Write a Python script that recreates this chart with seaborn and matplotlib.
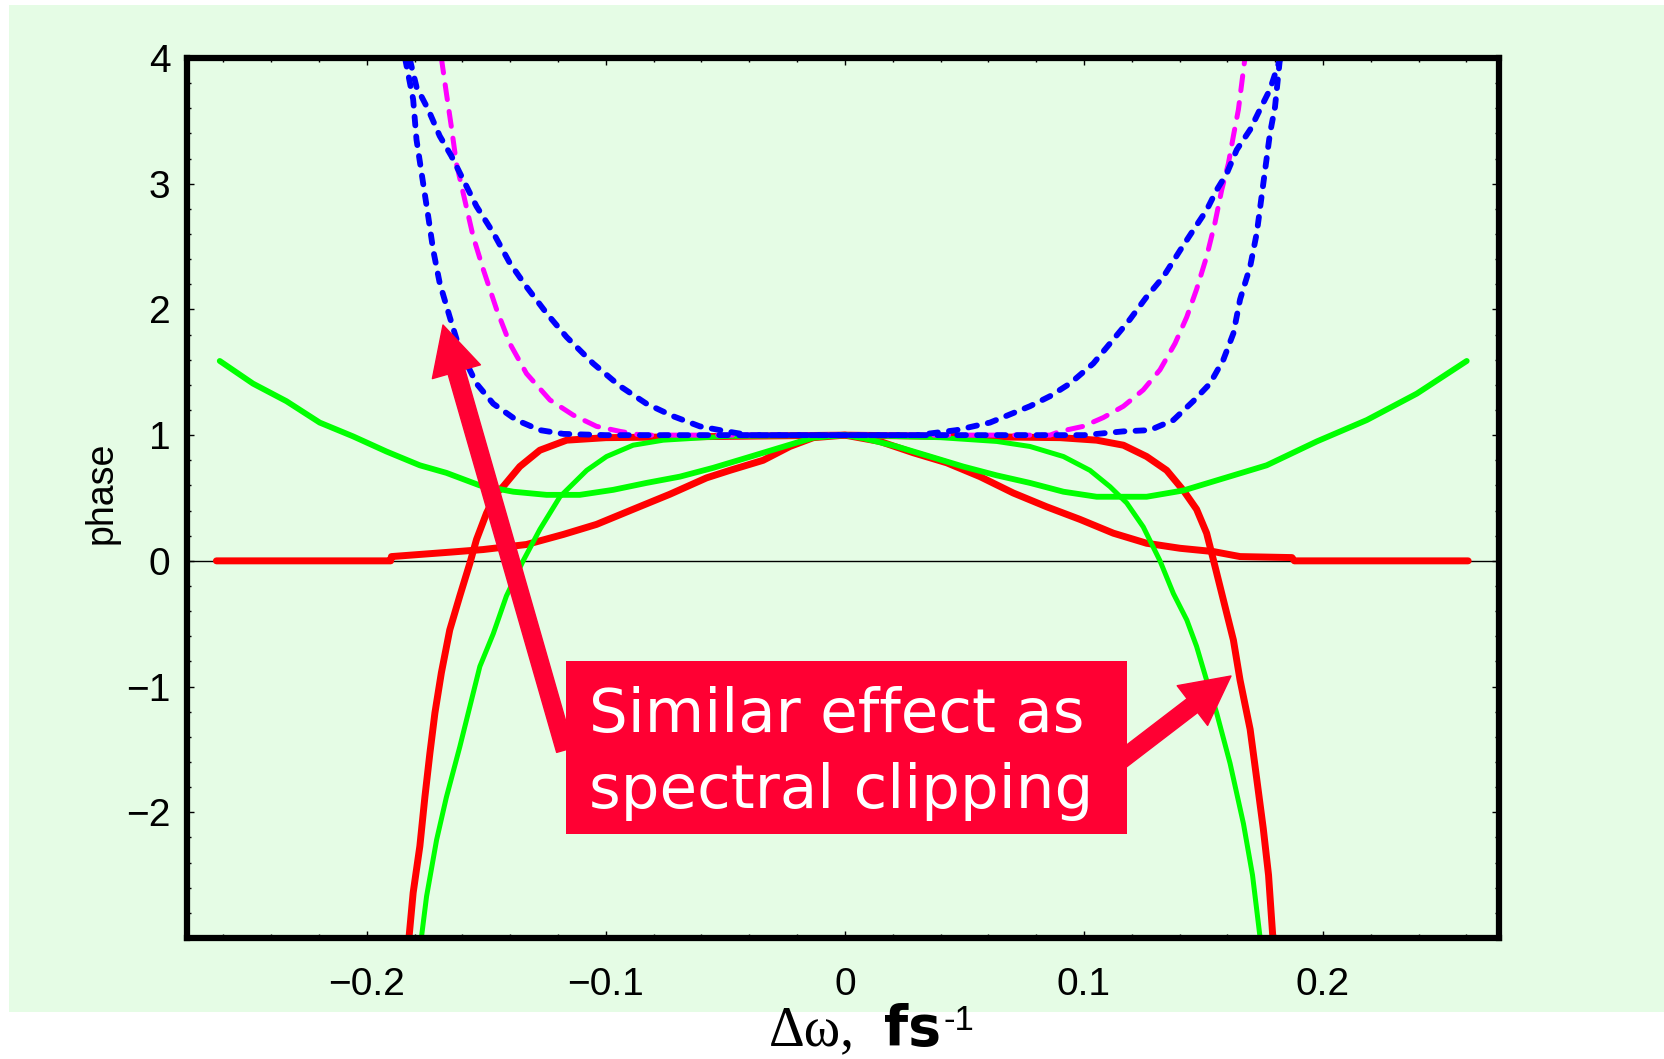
import matplotlib
matplotlib.use("Agg")
import matplotlib.pyplot as plt
from matplotlib.patches import Rectangle, FancyArrowPatch, ArrowStyle
from matplotlib.transforms import IdentityTransform
from matplotlib.ticker import FixedLocator, MultipleLocator
import numpy as np
import pandas as pd
import seaborn as sns

# ---------------- data ----------------
# narrow blue dashed curve
blue_narrow_x = [-0.184, -0.1806, -0.1792, -0.1764, -0.1743, -0.1722, -0.1695, -0.1653, -0.1611,
                 -0.1541, -0.1471, -0.1374, -0.1276, -0.1178, -0.10, -0.05, 0.0, 0.05, 0.10,
                 0.1165, 0.1276, 0.1374, 0.1457, 0.1527, 0.1583, 0.1625, 0.1653, 0.1695, 0.1723,
                 0.175, 0.1778, 0.1799, 0.182]
blue_narrow_y = [4.0, 3.67, 3.35, 3.0, 2.74, 2.47, 2.21, 1.94, 1.68,
                 1.41, 1.25, 1.12, 1.04, 1.01, 1.0, 1.0, 1.0, 1.0, 1.0,
                 1.03, 1.04, 1.12, 1.27, 1.41, 1.60, 1.81, 2.08, 2.34, 2.61,
                 3.0, 3.40, 3.61, 4.0]

# wide blue dashed curve
blue_wide_x = [-0.182, -0.1792, -0.1743, -0.1695, -0.1646, -0.1604, -0.1541, -0.1471, -0.1402,
               -0.1332, -0.1248, -0.1164, -0.1053, -0.0941, -0.083, -0.0718, -0.0607, -0.0495,
               -0.04, 0.0, 0.03, 0.0467, 0.0607, 0.0774, 0.0858, 0.0941, 0.1039, 0.1109, 0.1192,
               0.1262, 0.1332, 0.1402, 0.1457, 0.1513, 0.1555, 0.1597, 0.1639, 0.1695, 0.1736,
               0.1778, 0.182]
blue_wide_y = [3.99, 3.77, 3.59, 3.38, 3.22, 3.06, 2.82, 2.61, 2.37,
               2.18, 1.97, 1.78, 1.57, 1.39, 1.25, 1.15, 1.07, 1.03,
               1.0, 1.0, 1.0, 1.04, 1.10, 1.23, 1.31, 1.41, 1.57, 1.73, 1.92,
               2.10, 2.26, 2.47, 2.63, 2.79, 2.95, 3.08, 3.27, 3.43, 3.59,
               3.75, 3.99]

# magenta dashed curve
magenta_x = [-0.1688, -0.1667, -0.1646, -0.1625, -0.159, -0.1555, -0.1513, -0.1457, -0.1402,
             -0.1332, -0.1234, -0.1137, -0.1039, -0.0941, -0.085, 0.0, 0.0858, 0.09, 0.0997,
             0.1081, 0.1165, 0.1248, 0.1318, 0.1381, 0.143, 0.1471, 0.1513, 0.1548, 0.1576,
             0.1604, 0.1625, 0.1646, 0.166, 0.1674]
magenta_y = [4.0, 3.72, 3.45, 3.16, 2.87, 2.58, 2.32, 2.0, 1.73,
             1.49, 1.28, 1.16, 1.07, 1.03, 1.0, 1.0, 1.0, 1.03, 1.07,
             1.14, 1.23, 1.36, 1.52, 1.73, 1.94, 2.16, 2.42, 2.69, 2.95,
             3.16, 3.38, 3.59, 3.80, 4.01]

# broad red curve
red_broad_x = [-0.2629, -0.19, -0.1897, -0.1646, -0.1513, -0.1332, -0.1178, -0.1039, -0.0886,
               -0.0732, -0.0579, -0.0481, -0.0342, -0.023, -0.0132, 0.0, 0.0146, 0.0286, 0.0426,
               0.0565, 0.0704, 0.0844, 0.0983, 0.1123, 0.1262, 0.1402, 0.1541, 0.1653, 0.187,
               0.188, 0.2607]
red_broad_y = [0.0, 0.0, 0.034, 0.07, 0.09, 0.13, 0.21, 0.29, 0.41,
               0.53, 0.66, 0.72, 0.80, 0.91, 0.98, 1.0, 0.95, 0.86, 0.78,
               0.67, 0.54, 0.43, 0.33, 0.22, 0.14, 0.10, 0.074, 0.034, 0.026,
               0.0, 0.0]

# steep red curve
red_steep_x = [-0.1826, -0.1806, -0.1778, -0.1757, -0.1736, -0.1715, -0.1688, -0.1653, -0.1611,
               -0.1569, -0.1541, -0.1499, -0.1457, -0.143, -0.136, -0.1276, -0.1164, -0.10, 0.0,
               0.09, 0.1053, 0.1165, 0.1262, 0.1346, 0.1416, 0.1471, 0.1513, 0.1541, 0.1583,
               0.1625, 0.1653, 0.1695, 0.1723, 0.175, 0.1772, 0.1792]
red_steep_y = [-3.05, -2.64, -2.27, -1.88, -1.53, -1.21, -0.89, -0.55, -0.28,
               -0.02, 0.17, 0.38, 0.54, 0.59, 0.75, 0.88, 0.96, 0.98, 1.0,
               0.98, 0.96, 0.92, 0.83, 0.72, 0.56, 0.41, 0.22, 0.01, -0.31,
               -0.63, -0.95, -1.34, -1.74, -2.13, -2.5, -3.05]

# steep green curve
green_steep_x = [-0.1775, -0.175, -0.1708, -0.1667, -0.1611, -0.1569, -0.1527, -0.1471, -0.1416,
                 -0.1346, -0.1276, -0.1192, -0.108, -0.0997, -0.0886, -0.076, -0.05, 0.0, 0.04,
                 0.0635, 0.0774, 0.0914, 0.1025, 0.1109, 0.1179, 0.1248, 0.1318, 0.1374, 0.143,
                 0.1471, 0.1513, 0.1555, 0.1611, 0.1667, 0.1705, 0.174]
green_steep_y = [-3.05, -2.67, -2.22, -1.88, -1.48, -1.16, -0.84, -0.58, -0.28,
                 0.0, 0.25, 0.51, 0.72, 0.83, 0.92, 0.96, 0.99, 1.0, 0.98,
                 0.95, 0.91, 0.83, 0.72, 0.59, 0.46, 0.27, 0.0, -0.26, -0.47,
                 -0.68, -0.95, -1.21, -1.61, -2.09, -2.5, -3.05]

# W-shaped green curve
green_w_x = [-0.2615, -0.2476, -0.2336, -0.2197, -0.2057, -0.1918, -0.1778, -0.1667, -0.1527,
             -0.1387, -0.1248, -0.1109, -0.0969, -0.083, -0.069, -0.0551, -0.0411, -0.0272,
             -0.0132, 0.0, 0.0077, 0.0216, 0.0356, 0.0495, 0.0635, 0.0774, 0.0914, 0.1053,
             0.1262, 0.1416, 0.1555, 0.1764, 0.1974, 0.2183, 0.2392, 0.2601]
green_w_y = [1.59, 1.41, 1.27, 1.10, 0.99, 0.87, 0.76, 0.70, 0.60,
             0.55, 0.525, 0.525, 0.565, 0.62, 0.67, 0.74, 0.82, 0.90,
             0.98, 1.0, 0.976, 0.91, 0.83, 0.75, 0.68, 0.62, 0.55, 0.51,
             0.51, 0.56, 0.64, 0.76, 0.95, 1.12, 1.33, 1.59]

x_ticks = [-0.2, -0.1, 0.0, 0.1, 0.2]
x_tick_labels = ["\u22120.2", "\u22120.1", "0", "0.1", "0.2"]
y_ticks = [-2, -1, 0, 1, 2, 3, 4]
y_tick_labels = ["\u22122", "\u22121", "0", "1", "2", "3", "4"]

note_lines = ["Similar effect as", "spectral clipping"]

# ---------------- figure ----------------
W, H, DPI = 1664, 1059, 100
BG = "#E5FCE5"
ACCENT = "#FF0033"

sns.set_theme(style="ticks")
plt.rcParams["font.family"] = ["Liberation Sans", "DejaVu Sans"]

fig = plt.figure(figsize=(W / DPI, H / DPI), dpi=DPI, facecolor="white")
fig.add_artist(Rectangle((9 / W, 1 - 1012 / H), 1 - 9 / W, (1012 - 5) / H,
                         transform=fig.transFigure, facecolor=BG, edgecolor="none", zorder=-5))

ax = fig.add_axes([187 / W, 1 - 938 / H, (1499 - 187) / W, (938 - 58) / H])
ax.set_facecolor(BG)

ax.axhline(0, color="black", linewidth=1.0, zorder=1.5)


def curve(xs, ys, color, lw, ls, z):
    df = pd.DataFrame({"x": xs, "y": ys})
    sns.lineplot(data=df, x="x", y="y", ax=ax, color=color, linewidth=lw, linestyle=ls,
                 estimator=None, sort=False, errorbar=None, zorder=z,
                 solid_capstyle="round", dash_capstyle="round",
                 solid_joinstyle="round", dash_joinstyle="round")


curve(red_broad_x, red_broad_y, "#FF0000", 5.0, "-", 2.0)
curve(red_steep_x, red_steep_y, "#FF0000", 5.0, "-", 2.0)
curve(green_w_x, green_w_y, "#00FF00", 4.2, "-", 2.1)
curve(green_steep_x, green_steep_y, "#00FF00", 3.6, "-", 2.1)
curve(magenta_x, magenta_y, "#FF00FF", 3.6, (0, (3.0, 2.4)), 2.2)
curve(blue_wide_x, blue_wide_y, "#0000FF", 4.2, (0, (1.5, 1.9)), 2.3)
curve(blue_narrow_x, blue_narrow_y, "#0000FF", 4.2, (0, (1.5, 1.9)), 2.3)

ax.set_xlim(-0.2752, 0.2736)
ax.set_ylim(-3, 4)
ax.xaxis.set_major_locator(FixedLocator(x_ticks))
ax.set_xticklabels(x_tick_labels)
ax.xaxis.set_minor_locator(MultipleLocator(0.02))
ax.yaxis.set_major_locator(FixedLocator(y_ticks))
ax.set_yticklabels(y_tick_labels)
ax.yaxis.set_minor_locator(MultipleLocator(0.2))
ax.set_xlabel("")
ax.set_ylabel("")

ax.tick_params(which="both", direction="in", top=True, right=True, color="black", width=1.0,
               labelsize=28, labelcolor="black")
ax.tick_params(which="major", length=5)
ax.tick_params(which="minor", length=3)
ax.tick_params(axis="x", which="major", pad=21)
ax.tick_params(axis="y", which="major", pad=12)
for s in ax.spines.values():
    s.set_visible(True)
    s.set_linewidth(4.5)
    s.set_color("black")

# y axis title
fig.text(102 / W, 1 - 493 / H, "phase", rotation=90, ha="center", va="center",
         fontsize=27, color="black")

# callout box with its two arrows
fig.add_artist(Rectangle((566 / W, 1 - 834 / H), (1127 - 566) / W, (834 - 661) / H,
                         transform=fig.transFigure, facecolor=ACCENT, edgecolor="none", zorder=5))
arrow_style = ArrowStyle.Simple(head_length=35, head_width=36, tail_width=12.5)
for tail, tip in [((565, H - 750), (443, H - 325)), ((1120, H - 761), (1231, H - 676))]:
    fig.add_artist(FancyArrowPatch(tail, tip, arrowstyle=arrow_style, mutation_scale=1,
                                   shrinkA=0, shrinkB=0, transform=IdentityTransform(),
                                   color=ACCENT, zorder=6))
fig.text(589 / W, 1 - 731.7 / H, note_lines[0], ha="left", va="baseline",
         fontsize=44, color="white", family="DejaVu Sans", zorder=7)
fig.text(589 / W, 1 - 808 / H, note_lines[1], ha="left", va="baseline",
         fontsize=44, color="white", family="DejaVu Sans", zorder=7)

# x axis title, assembled from pieces in different faces
fig.canvas.draw()
rend = fig.canvas.get_renderer()
base_y = 1 - 1045 / H
t1 = fig.text(769 / W, base_y, "\u0394\u03c9,", ha="left", va="baseline",
              fontsize=40, family="Liberation Serif", color="black")
bb1 = t1.get_window_extent(rend)
t2 = fig.text(max(bb1.x1 + 18, 884) / W, base_y, "fs", ha="left", va="baseline",
              fontsize=40, family="DejaVu Sans", fontweight="bold", color="black")
bb2 = t2.get_window_extent(rend)
fig.text((bb2.x1 + 2) / W, 1 - 1030 / H, "-1", ha="left", va="baseline",
         fontsize=25, family="Liberation Sans", color="black")

fig.savefig("out.png", dpi=DPI, facecolor="white")
